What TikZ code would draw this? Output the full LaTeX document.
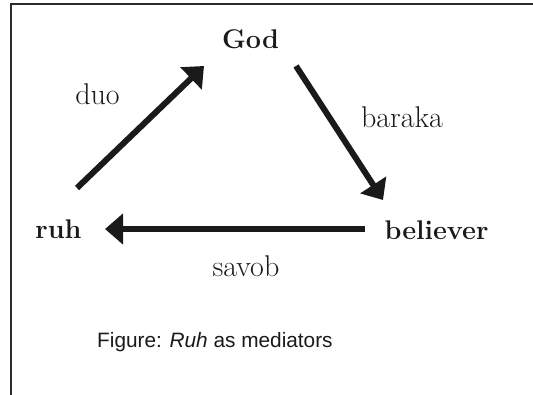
\documentclass[tikz,border=0pt]{standalone}
\usepackage{fontspec}
\newfontfamily\capfont{Liberation Sans}
\usetikzlibrary{arrows.meta}
\definecolor{ink}{HTML}{1A1A1A}
\definecolor{framec}{HTML}{2A2A2A}
\tikzset{
  boldlbl/.style={inner sep=0pt, anchor=base, text=ink, font=\fontsize{27}{32}\selectfont\bfseries},
  reglbl/.style={inner sep=0pt, anchor=base, text=ink, font=\fontsize{30}{36}\selectfont},
  caplbl/.style={inner sep=0pt, anchor=base west, text=ink, font=\capfont\fontsize{20.8}{25}\selectfont},
  bigarrow/.style={draw=ink, line width=6pt, -{Triangle[length=18pt,width=30pt]}},
  framel/.style={draw=framec, line width=2pt}
}
\begin{document}
\begin{tikzpicture}[x=1pt,y=-1pt]
\useasboundingbox (0,0) rectangle (533,395);
% frame
\coordinate (ftr) at (533,4);
\coordinate (ftl) at (11,4);
\coordinate (fbl) at (11,395);
\draw[framel] (ftr) -- (ftl) -- (fbl);
% nodes
\node[boldlbl] (god) at (250.5,49) {God};
\node[boldlbl] (ruh) at (58.5,239) {ruh};
\node[boldlbl] (bel) at (436.5,240) {believer};
\node[reglbl] (duo) at (97.5,105) {duo};
\node[reglbl] (bar) at (402,128) {baraka};
\node[reglbl] (sav) at (246,277) {savob};
\node[caplbl] (cap) at (97,348) {Figure: \textit{Ruh} as mediators};
% arrow endpoints
\coordinate (a1s) at (77,188);
\coordinate (a1e) at (204,66);
\coordinate (a2s) at (296,66);
\coordinate (a2e) at (383,200);
\coordinate (a3s) at (365,229);
\coordinate (a3e) at (105,229);
\draw[bigarrow] (a1s) -- (a1e);
\draw[bigarrow] (a2s) -- (a2e);
\draw[bigarrow] (a3s) -- (a3e);
\end{tikzpicture}
\end{document}
